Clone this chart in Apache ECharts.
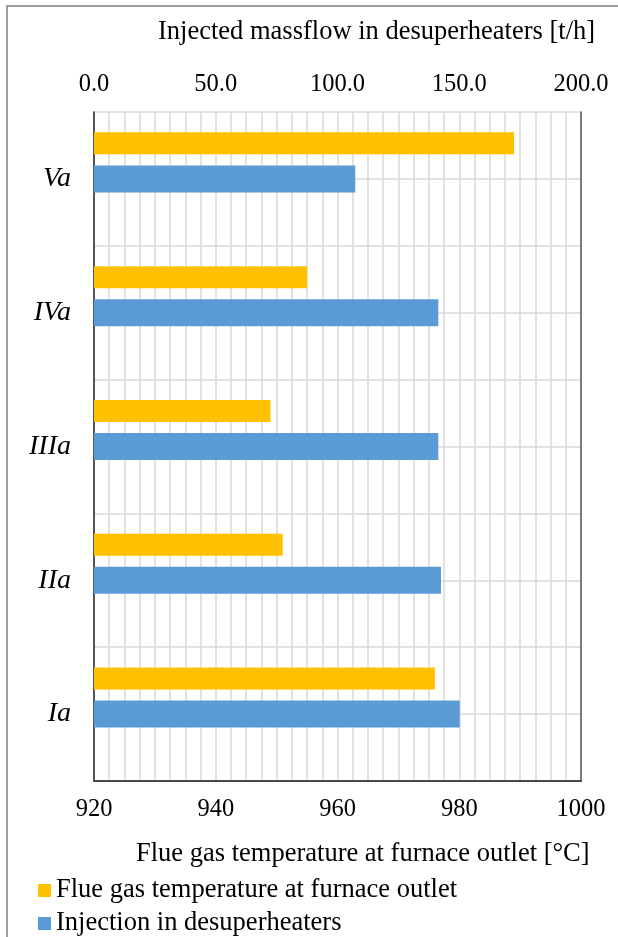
<!DOCTYPE html>
<html>
<head>
<meta charset="utf-8">
<script src="https://cdn.jsdelivr.net/npm/echarts@6/dist/echarts.min.js"></script>
<style>
  html, body { margin: 0; padding: 0; background: #fff; }
  #chart { width: 618px; height: 937px; }
</style>
</head>
<body>
<div id="chart"></div>
<script>
// Operating cases, bottom to top
const cases = ['Ia', 'IIa', 'IIIa', 'IVa', 'Va'];
// Flue gas temperature at furnace outlet [°C]
const flueGasTemp = [976, 951, 949, 955, 989];
// Injected massflow in desuperheaters [t/h]
const injection = [150.2, 142.5, 141.4, 141.4, 107.3];
// Empty companion series that shifts the temperature bars above the centre line
const spacer = [null, null, null, null, null];

const tempAxis = { min: 920, max: 1000, interval: 20 };
const flowAxis = { min: 0, max: 200, interval: 50 };

const serif = 'Liberation Serif';
const gridColor = '#d9d9d9';
const frameColor = '#595959';
const legendText = { fontFamily: serif, fontSize: 26.5, color: '#000' };

const chart = echarts.init(document.getElementById('chart'), null, { renderer: 'canvas' });

chart.setOption({
  animation: false,
  backgroundColor: '#ffffff',
  textStyle: { fontFamily: serif, color: '#000' },
  title: [
    {
      text: 'Injected massflow in desuperheaters [t/h]',
      left: 153, top: 14,
      textStyle: { fontFamily: serif, fontSize: 26.5, fontWeight: 'normal', color: '#000' }
    },
    {
      text: 'Flue gas temperature at furnace outlet [°C]',
      left: 131, top: 836,
      textStyle: { fontFamily: serif, fontSize: 26.5, fontWeight: 'normal', color: '#000' }
    }
  ],
  legend: [
    {
      left: 33, top: 872,
      itemWidth: 13, itemHeight: 13, itemGap: 0,
      icon: 'rect',
      data: ['Flue gas temperature at furnace outlet'],
      textStyle: legendText
    },
    {
      left: 33, top: 905,
      itemWidth: 13, itemHeight: 13, itemGap: 0,
      icon: 'rect',
      data: ['Injection in desuperheaters'],
      textStyle: legendText
    }
  ],
  graphic: [{
    type: 'rect',
    shape: { x: 7, y: 6, width: 700, height: 1000 },
    style: { fill: 'none', stroke: '#7f7f7f', lineWidth: 1.5 },
    silent: true
  }],
  grid: {
    left: 94, top: 112, width: 487, height: 669,
    containLabel: false
  },
  xAxis: [
    {
      type: 'value', position: 'top',
      min: flowAxis.min, max: flowAxis.max, interval: flowAxis.interval,
      axisLine: { show: true, lineStyle: { color: frameColor, width: 1.5 } },
      axisTick: { show: false },
      splitLine: { show: false },
      axisLabel: {
        fontFamily: serif, fontSize: 24.5, color: '#000', margin: 15,
        formatter: v => v.toFixed(1)
      }
    },
    {
      type: 'value', position: 'bottom',
      min: tempAxis.min, max: tempAxis.max, interval: tempAxis.interval,
      axisLine: { show: true, lineStyle: { color: '#3a3a3a', width: 1.5 } },
      axisTick: { show: false },
      splitLine: { show: true, lineStyle: { color: gridColor, width: 1.5 } },
      minorTick: { show: false, splitNumber: 8 },
      minorSplitLine: { show: true, lineStyle: { color: gridColor, width: 1.5 } },
      axisLabel: {
        fontFamily: serif, fontSize: 24.5, color: '#000', margin: 16,
        formatter: v => String(v)
      }
    }
  ],
  yAxis: [
    {
      type: 'category', data: cases,
      axisLine: { show: true, lineStyle: { color: '#262626', width: 1.5 } },
      axisTick: { show: false },
      splitLine: { show: false },
      axisLabel: { fontFamily: serif, fontSize: 28, fontStyle: 'italic', color: '#000', margin: 23 }
    },
    {
      type: 'category', data: cases, show: false
    },
    {
      // half-category gridlines, plus the right-hand frame
      type: 'value', position: 'right', min: 0, max: 10, interval: 1,
      axisLine: { show: true, lineStyle: { color: frameColor, width: 1.5 } },
      axisTick: { show: false }, axisLabel: { show: false },
      splitLine: { show: true, lineStyle: { color: gridColor, width: 1.5 } }
    }
  ],
  series: [
    {
      name: 'Flue gas temperature at furnace outlet',
      type: 'bar', xAxisIndex: 1, yAxisIndex: 1,
      data: flueGasTemp, barWidth: 22, barGap: '223%',
      itemStyle: { color: '#ffc000' }, z: 3
    },
    {
      name: 'spacer',
      type: 'bar', xAxisIndex: 1, yAxisIndex: 1,
      data: spacer, barWidth: 22,
      itemStyle: { color: 'rgba(0,0,0,0)' }, silent: true
    },
    {
      name: 'Injection in desuperheaters',
      type: 'bar', xAxisIndex: 0, yAxisIndex: 0,
      data: injection, barWidth: 27,
      itemStyle: { color: '#5b9bd5' }, z: 3
    }
  ]
});
</script>
</body>
</html>
